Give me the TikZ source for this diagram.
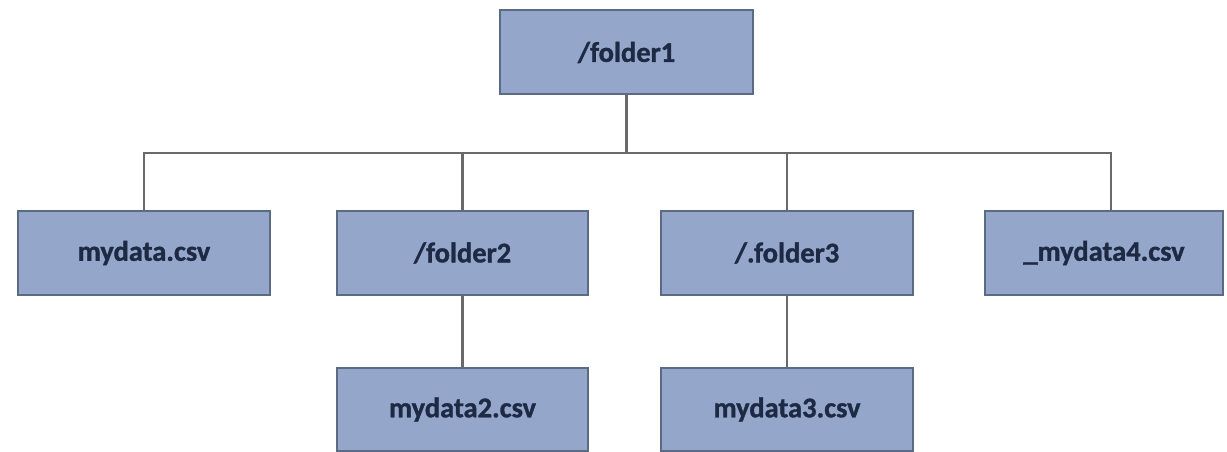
\documentclass[tikz,border=0pt]{standalone}
\usepackage{fontspec}
\setmainfont{Carlito}[FakeBold=1.2]
\newfontfamily\labelfont{Carlito}[FakeBold=1.2]
\definecolor{boxfill}{HTML}{94A7CB}
\definecolor{boxedge}{HTML}{5B6B84}
\definecolor{linkgray}{HTML}{6A6A6A}
\definecolor{labelink}{HTML}{1E2A44}
\begin{document}
\begin{tikzpicture}[x=1pt,y=-1pt,
  entry/.style={draw=boxedge, line width=2pt, fill=boxfill, inner sep=0pt,
    minimum width=252pt, minimum height=84pt, text=labelink,
    font=\labelfont\bfseries\fontsize{28.5}{32}\selectfont},
  link/.style={draw=linkgray, line width=2.6pt}]
  \useasboundingbox (0,0) rectangle (1227,452);

  % top folder
  \node[entry, minimum width=253pt] (f1) at (626.5,52.5) {/folder1};

  % first level
  \node[entry] (md) at (144,253) {mydata.csv};
  \node[entry, minimum width=251pt] (f2) at (462.5,253) {/folder2};
  \node[entry] (f3) at (787,253) {/.folder3};
  \node[entry, minimum width=238pt] (d4) at (1104,253) {\_mydata4.csv};

  % second level
  \node[entry, minimum width=251pt, minimum height=83pt] (d2) at (462.5,409.5) {mydata2.csv};
  \node[entry, minimum height=83pt] (d3) at (787,409.5) {mydata3.csv};

  % connectors
  \coordinate (bus) at (626.5,153);
  \draw[link] (f1.south) -- (bus);
  \draw[link] (md.north) |- (bus) -| ([xshift=7pt]d4.north);
  \draw[link] (f2.north) -- (f2.north |- bus);
  \draw[link] (f3.north) -- (f3.north |- bus);
  \draw[link] (f2.south) -- (d2.north);
  \draw[link] (f3.south) -- (d3.north);
\end{tikzpicture}
\end{document}
